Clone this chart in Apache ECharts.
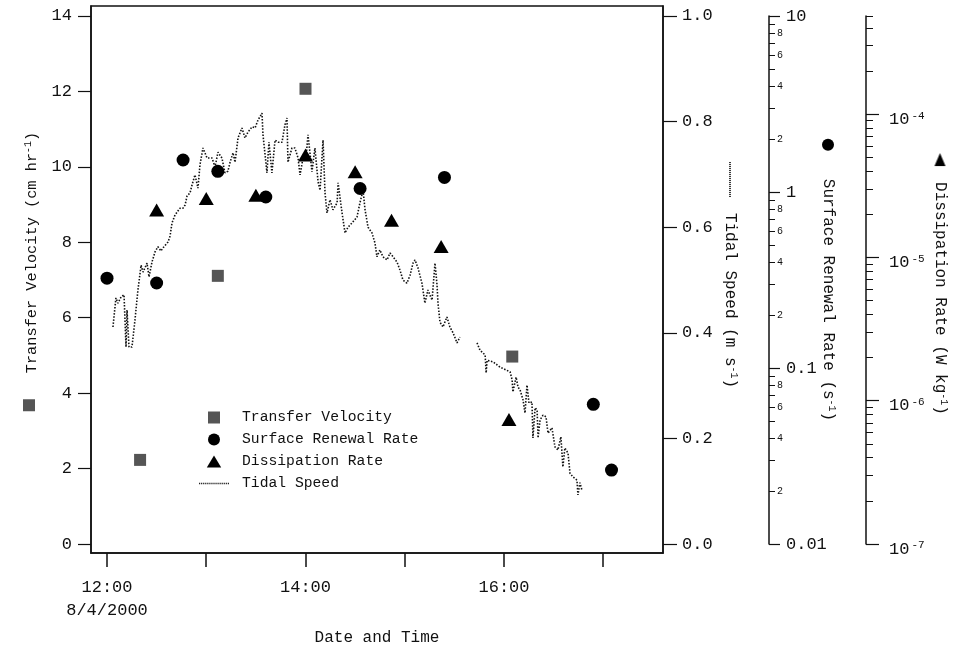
<!DOCTYPE html>
<html><head><meta charset="utf-8">
<script src="https://cdn.jsdelivr.net/npm/echarts@6/dist/echarts.min.js"></script>
<style>html,body{margin:0;padding:0;background:#fff}#c{width:956px;height:648px}</style>
</head><body><div id="c"></div>
<script>
// ---------------- DATA ----------------
// Transfer velocity (cm hr^-1)
const transferTimes = ['12:20', '13:07', '14:00', '16:05'];
const transferValues = [2.23, 7.11, 12.07, 4.97];
// Surface renewal rate (s^-1)
const renewalTimes = ['12:00', '12:30', '12:46', '13:07', '13:36', '14:33', '15:24', '16:54', '17:05'];
const renewalValues = [0.324, 0.304, 1.52, 1.31, 0.937, 1.047, 1.21, 0.0622, 0.0263];
// Dissipation rate (W kg^-1)
const dissipationTimes = ['12:30', '13:00', '13:30', '14:00', '14:30', '14:52', '15:22', '16:03'];
const dissipationValues = [2.14e-5, 2.58e-5, 2.72e-5, 5.19e-5, 3.96e-5, 1.82e-5, 1.19e-5, 7.4e-7];
// Tidal speed (m s^-1): minutes after 12:00 on 8/4/2000
const tidalMinutes = [3.6,5.4,6.6,8.5,10.3,11.5,12.1,13.3,15.1,16.9,18.7,20.6,21.8,24.2,25.4,27.2,29.0,30.8,32.6,33.9,
  36.9,38.1,39.3,41.1,44.1,45.9,47.2,48.4,50.2,51.4,53.2,55.0,56.2,58.0,60.5,63.5,65.3,67.1,69.5,71.3,
  73.1,74.4,76.2,77.4,79.2,81.6,83.4,85.2,87.7,89.5,91.3,93.7,94.3,96.7,97.9,99.7,101.6,103.4,105.8,107.6,
  108.8,109.4,111.8,113.6,115.5,116.7,118.5,120.3,121.5,122.7,123.9,125.7,127.6,128.8,130.6,131.8,133.0,134.8,136.6,139.1,
  139.7,142.1,143.9,145.7,148.1,151.1,152.9,154.8,156.0,157.8,160.2,162.0,163.2,165.0,166.8,169.3,171.1,172.9,175.3,177.1,
  178.9,181.3,183.2,185.0,186.2,188.0,190.4,192.2,194.0,196.5,198.3,199.5,200.1,201.3,203.1,205.5,207.3,209.2,211.6,213.4,
  218.0,
  223.7,225.5,228.6,229.2,229.8,233.4,237.6,243.7,244.9,245.4,247.3,248.5,249.7,251.5,252.7,253.9,255.1,256.9,257.5,258.8,
  260.0,260.6,261.8,263.6,265.4,266.6,269.0,270.8,272.6,274.4,275.6,276.8,278.7,279.9,281.7,284.1,284.7,285.9,287.1];
const tidalSpeeds = [0.411,0.466,0.456,0.468,0.472,0.373,0.443,0.373,0.373,0.424,0.481,0.528,0.515,0.532,0.506,0.534,0.553,0.563,0.555,0.561,
  0.572,0.583,0.608,0.623,0.636,0.636,0.642,0.659,0.665,0.680,0.699,0.674,0.718,0.750,0.731,0.731,0.714,0.742,0.731,0.703,
  0.706,0.723,0.741,0.723,0.769,0.788,0.769,0.780,0.790,0.788,0.803,0.816,0.775,0.703,0.761,0.703,0.765,0.761,0.761,0.794,
  0.807,0.723,0.750,0.750,0.731,0.699,0.731,0.731,0.775,0.741,0.705,0.750,0.686,0.670,0.765,0.665,0.627,0.652,0.633,0.646,
  0.684,0.627,0.589,0.600,0.608,0.619,0.646,0.670,0.633,0.600,0.589,0.570,0.544,0.557,0.544,0.538,0.551,0.544,0.534,0.519,
  0.500,0.494,0.509,0.532,0.538,0.523,0.494,0.456,0.481,0.462,0.532,0.491,0.456,0.420,0.411,0.430,0.411,0.400,0.381,0.392,
  null,
  0.381,0.367,0.358,0.324,0.348,0.345,0.335,0.326,0.311,0.288,0.316,0.297,0.292,0.273,0.248,0.301,0.267,0.269,0.201,0.258,
  0.254,0.201,0.235,0.244,0.241,0.210,0.220,0.184,0.178,0.203,0.146,0.182,0.172,0.134,0.127,0.121,0.093,0.116,0.102];
// Axis ticks / labels
const timeTicks = [12, 13, 14, 15, 16, 17];
const timeLabels = [12, 14, 16];
const dateLabel = '8/4/2000';
const velocityTicks = [0, 2, 4, 6, 8, 10, 12, 14];
const speedTicks = [0, 0.2, 0.4, 0.6, 0.8, 1.0];
const renewalDecades = [0.01, 0.1, 1, 10];
const dissipationDecades = [1e-7, 1e-6, 1e-5, 1e-4];
const minorMultipliers = [2, 3, 4, 5, 6, 7, 8, 9];
const labeledMultipliers = [2, 4, 6, 8];

// ---------------- HELPERS ----------------
const FONT = '"Liberation Mono", "DejaVu Sans Mono", monospace';
const INK = '#111';
function toHours(t) { const p = t.split(':').map(Number); return p[0] + p[1] / 60; }
const lg = Math.log10;
function makeCanvas(w, h, draw) { const c = document.createElement('canvas'); c.width = w; c.height = h; draw(c.getContext('2d')); return c; }
const dotImg = makeCanvas(36, 2, ctx => { ctx.fillStyle = '#222'; for (let i = 0; i < 36; i += 2) ctx.fillRect(i, 0, 1, 2); });
const triImg = makeCanvas(13, 11, ctx => { ctx.fillStyle = '#000'; ctx.beginPath(); ctx.moveTo(0, 5.5); ctx.lineTo(13, 0); ctx.lineTo(13, 11); ctx.closePath(); ctx.fill(); });
let dotPath = 'path://';
for (let i = 0; i < 15; i++) dotPath += 'M' + (i * 2) + ',0h1.2v1.4h-1.2z';

// axis extents (main grid spans a bit beyond the labelled range)
const vMin = -0.2386, vMax = 14.265;
const sMin = vMin / 14, sMax = vMax / 14;
const xMin = 12 - 16 / 99.25, xMax = 12 + 556 / 99.25;
const rMin = -2, rMax = 1;
const dMin = -7, dMax = -7 + 528 / 143.3;

const renewalMajor = renewalDecades.map(lg);
const renewalMinor = [], renewalMinorLab = [];
renewalDecades.slice(0, 3).forEach(d => minorMultipliers.forEach(k => {
  renewalMinor.push(lg(d * k));
  if (labeledMultipliers.includes(k)) renewalMinorLab.push(lg(d * k));
}));
const dissMajor = dissipationDecades.map(lg);
const dissMinor = [];
dissipationDecades.forEach(d => minorMultipliers.forEach(k => { const v = lg(d * k); if (v <= dMax) dissMinor.push(v); }));
dissMinor.push(dMax);

const tRich = {
  t: { fontFamily: FONT, fontSize: 16, color: INK, lineHeight: 18 },
  tl: { fontFamily: FONT, fontSize: 15.3, color: INK, lineHeight: 18 },
  sup: { fontFamily: FONT, fontSize: 10, color: INK, lineHeight: 10, verticalAlign: 'top', padding: [0, 0, 14, 0] },
  sq: { width: 12, height: 12, backgroundColor: '#555', verticalAlign: 'top' },
  dot: { width: 12, height: 12, borderRadius: 6, backgroundColor: '#000' },
  tri: { width: 13, height: 11, backgroundColor: { image: triImg } },
  ln: { width: 36, height: 2, backgroundColor: { image: dotImg } },
  g: { width: 26 }, g3: { width: 15 }, g4: { width: 16 }, g5: { width: 28 }
};

function baseY(extra) {
  return Object.assign({
    type: 'value', splitLine: { show: false }, minorTick: { show: false },
    axisLine: { show: true, onZero: false, lineStyle: { color: INK, width: 1.5 } },
    axisTick: { show: true, inside: false, lineStyle: { color: INK, width: 1.2 } },
    axisLabel: { fontFamily: FONT, fontSize: 17, color: INK },
    nameLocation: 'middle', nameMoveOverlap: false,
    nameTextStyle: { rich: tRich, fontFamily: FONT, fontSize: 16, color: INK }
  }, extra);
}

const option = {
  animation: false,
  backgroundColor: '#fff',
  grid: [
    { left: 91, right: 293, top: 6, bottom: 95, show: true, borderColor: INK, borderWidth: 1.5, containLabel: false, outerBoundsMode: 'none' },
    { left: 91, right: 293, top: 16, bottom: 104, containLabel: false, outerBoundsMode: 'none' }
  ],
  xAxis: [
    {
      type: 'value', gridIndex: 0, min: xMin, max: xMax, splitLine: { show: false },
      axisLine: { onZero: false, lineStyle: { color: INK, width: 1.5 } },
      axisTick: { inside: false, length: 14, customValues: timeTicks, lineStyle: { color: INK, width: 1.5 } },
      axisLabel: {
        customValues: timeLabels, margin: 23, fontFamily: FONT, fontSize: 17, color: INK, lineHeight: 23,
        formatter: v => { const s = Math.round(v) + ':00'; return Math.round(v) === 12 ? s + '\n' + dateLabel : s; }
      },
      name: 'Date and Time', nameLocation: 'middle', nameGap: 77, nameMoveOverlap: false,
      nameTextStyle: { fontFamily: FONT, fontSize: 16, color: INK }
    },
    { type: 'value', gridIndex: 1, min: xMin, max: xMax, show: false }
  ],
  yAxis: [
    baseY({
      gridIndex: 0, position: 'left', min: vMin, max: vMax,
      axisTick: { show: true, length: 13, customValues: velocityTicks, lineStyle: { color: INK, width: 1.2 } },
      axisLabel: { customValues: velocityTicks, margin: 19, fontFamily: FONT, fontSize: 17, color: INK },
      name: '{sq|}{g|}{tl|Transfer Velocity (cm hr}{sup|-1}{tl|)}', nameRotate: 90, nameGap: 50,
      nameTextStyle: { rich: tRich, fontFamily: FONT, fontSize: 16, color: INK, padding: [0, 0, 0, 16] }
    }),
    baseY({
      gridIndex: 0, position: 'right', min: sMin, max: sMax,
      axisTick: { show: true, length: 14, customValues: speedTicks, lineStyle: { color: INK, width: 1.2 } },
      axisLabel: { customValues: speedTicks, margin: 19, fontFamily: FONT, fontSize: 17, color: INK, formatter: v => v.toFixed(1) },
      name: '{ln|}{g3|}{t|Tidal Speed (m s}{sup|-1}{t|)}', nameRotate: -90, nameGap: 58,
      nameTextStyle: { rich: tRich, fontFamily: FONT, fontSize: 16, color: INK, padding: [0, 9, 0, 0] }
    }),
    baseY({
      gridIndex: 1, position: 'right', offset: 106, min: rMin, max: rMax,
      axisTick: { show: true, length: 11, customValues: renewalMajor, lineStyle: { color: INK, width: 1.2 } },
      axisLabel: { customValues: renewalMajor, margin: 17, fontFamily: FONT, fontSize: 17, color: INK,
        formatter: v => { const e = Math.round(v); return e >= 0 ? String(Math.pow(10, e)) : (Math.pow(10, e)).toFixed(-e); } },
      name: '{dot|}{g5|}{t|Surface Renewal Rate (s}{sup|-1}{t|)}', nameRotate: -90, nameGap: 50
    }),
    baseY({
      gridIndex: 1, position: 'right', offset: 106, min: rMin, max: rMax,
      axisLine: { show: false },
      axisTick: { show: true, length: 6, customValues: renewalMinor, lineStyle: { color: INK, width: 1 } },
      axisLabel: { customValues: renewalMinorLab, margin: 8, fontFamily: FONT, fontSize: 10, color: INK,
        formatter: v => String(Math.round(Math.pow(10, v - Math.floor(v + 1e-9)))) }
    }),
    baseY({
      gridIndex: 1, position: 'right', offset: 203, min: dMin, max: dMax,
      axisTick: { show: true, length: 13, customValues: dissMajor, lineStyle: { color: INK, width: 1.2 } },
      axisLabel: { customValues: dissMajor, margin: 23, padding: [10, 0, 0, 0], formatter: v => '{b|10}{s|' + Math.round(v) + '}',
        rich: {
          b: { fontFamily: FONT, fontSize: 17, color: INK, lineHeight: 18 },
          s: { fontFamily: FONT, fontSize: 11, color: INK, lineHeight: 11, verticalAlign: 'top', padding: [0, 0, 20, 2] }
        } },
      name: '{tri|}{g4|}{t|Dissipation Rate (W kg}{sup|-1}{t|)}', nameRotate: -90, nameGap: 65,
      nameTextStyle: { rich: tRich, fontFamily: FONT, fontSize: 16, color: INK, padding: [0, 0, 0, 8] }
    }),
    baseY({
      gridIndex: 1, position: 'right', offset: 203, min: dMin, max: dMax,
      axisLine: { show: false },
      axisTick: { show: true, length: 7, customValues: dissMinor, lineStyle: { color: INK, width: 1 } },
      axisLabel: { show: false }
    })
  ],
  legend: {
    orient: 'vertical', left: 194, top: 405, itemWidth: 30, itemHeight: 12, itemGap: 7, selectedMode: false,
    symbolKeepAspect: true,
    textStyle: { fontFamily: FONT, fontSize: 14.7, color: INK, lineHeight: 14, padding: [0, 0, 0, 8] },
    data: [
      { name: 'Transfer Velocity', icon: 'path://M0,0H10V10H0Z' },
      { name: 'Surface Renewal Rate', icon: 'circle' },
      { name: 'Dissipation Rate', icon: 'path://M5,0L10.4,9L-0.4,9Z' },
      { name: 'Tidal Speed', icon: dotPath }
    ]
  },
  series: [
    {
      name: 'Tidal Speed', type: 'line', xAxisIndex: 0, yAxisIndex: 1, symbol: 'none', connectNulls: false,
      lineStyle: { color: '#111', width: 1.6, type: [1.5, 1.6] }, itemStyle: { color: '#222' }, z: 1,
      data: tidalMinutes.map((m, i) => [12 + m / 60, tidalSpeeds[i] === null ? '-' : tidalSpeeds[i]])
    },
    {
      name: 'Transfer Velocity', type: 'scatter', xAxisIndex: 0, yAxisIndex: 0, symbol: 'rect', symbolSize: 12,
      itemStyle: { color: '#555', opacity: 1 }, z: 3,
      data: transferTimes.map((t, i) => [toHours(t), transferValues[i]])
    },
    {
      name: 'Surface Renewal Rate', type: 'scatter', xAxisIndex: 1, yAxisIndex: 2, symbol: 'circle', symbolSize: 13,
      itemStyle: { color: '#000', opacity: 1 }, z: 3,
      data: renewalTimes.map((t, i) => [toHours(t), lg(renewalValues[i])])
    },
    {
      name: 'Dissipation Rate', type: 'scatter', xAxisIndex: 1, yAxisIndex: 4, symbol: 'triangle', symbolSize: [15, 13],
      itemStyle: { color: '#000', opacity: 1 }, z: 3,
      data: dissipationTimes.map((t, i) => [toHours(t), lg(dissipationValues[i])])
    }
  ]
};
const chart = echarts.init(document.getElementById('c'), null, { renderer: 'canvas' });
chart.setOption(option);
</script></body></html>
